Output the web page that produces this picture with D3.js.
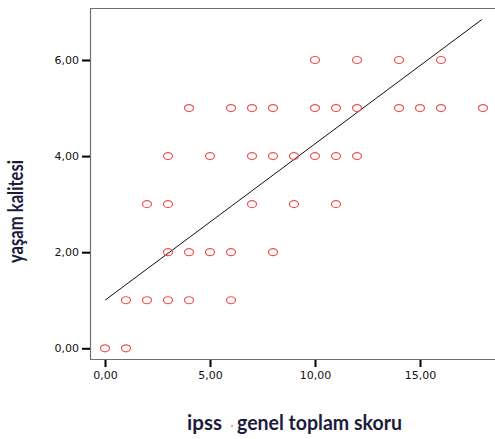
<!DOCTYPE html>
<html>
<head>
<meta charset="utf-8">
<script src="https://cdn.jsdelivr.net/npm/d3@7"></script>
<style>
  body { margin: 0; background: #fff; }
  svg { display: block; }
</style>
</head>
<body>
<svg id="canvas" width="495" height="439"></svg>
<script>
// ipss score (x) and quality of life (y) for each point
let ipssScores = [0, 1,
                  1, 2, 3, 4, 6,
                  3, 4, 5, 6, 8,
                  2, 3, 7, 9, 11,
                  3, 5, 7, 8, 9, 10, 11, 12,
                  4, 6, 7, 8, 10, 11, 12, 14, 15, 16, 18,
                  10, 12, 14, 16]
let qolScores = [0, 0,
                 1, 1, 1, 1, 1,
                 2, 2, 2, 2, 2,
                 3, 3, 3, 3, 3,
                 4, 4, 4, 4, 4, 4, 4, 4,
                 5, 5, 5, 5, 5, 5, 5, 5, 5, 5, 5,
                 6, 6, 6, 6]

// fit line ends
let fitX = [0, 17.94]
let fitY = [1.0, 6.84]

let xTicks = [0, 5, 10, 15]
let yTicks = [0, 2, 4, 6]

let fmt = (v) => v.toFixed(2).replace('.', ',')

let canvas = d3.select('#canvas')

let xScale = d3.scaleLinear().domain([0, 15]).range([105, 420])
let yScale = d3.scaleLinear().domain([0, 6]).range([348.3, 60])

// frame (right side runs off the picture)
canvas.append('path')
    .attr('d', 'M 510 8.5 H 90.5 V 359.5 H 510')
    .attr('fill', 'none')
    .attr('stroke', '#707070')
    .attr('stroke-width', 1.2)

let xAxis = d3.axisBottom(xScale).tickValues(xTicks).tickFormat(fmt).tickSize(7).tickPadding(4)
let yAxis = d3.axisLeft(yScale).tickValues(yTicks).tickFormat(fmt).tickSize(8).tickPadding(3)

let gx = canvas.append('g').attr('transform', 'translate(0, 360)').call(xAxis)
let gy = canvas.append('g').attr('transform', 'translate(90, 0)').call(yAxis)

for (let g of [gx, gy]) {
    g.select('.domain').remove()
    g.selectAll('.tick line').attr('stroke', '#000').attr('stroke-width', 2)
    g.selectAll('.tick text')
        .attr('fill', '#111')
        .style('font-family', 'DejaVu Sans')
        .style('font-size', '11px')
}

// fit line
canvas.append('line')
    .attr('x1', xScale(fitX[0]))
    .attr('y1', yScale(fitY[0]))
    .attr('x2', xScale(fitX[1]))
    .attr('y2', yScale(fitY[1]))
    .attr('stroke', '#111')
    .attr('stroke-width', 1)

// points
canvas.selectAll('ellipse')
    .data(ipssScores)
    .enter()
    .append('ellipse')
    .attr('cx', (d) => xScale(d))
    .attr('cy', (d, i) => yScale(qolScores[i]))
    .attr('rx', 4.5)
    .attr('ry', 3.5)
    .attr('fill', 'none')
    .attr('stroke', '#f05050')
    .attr('stroke-width', 1.2)

// axis titles
canvas.append('text')
    .attr('transform', 'translate(23, 211.5) rotate(-90)')
    .attr('text-anchor', 'middle')
    .attr('textLength', 103)
    .attr('lengthAdjust', 'spacingAndGlyphs')
    .attr('fill', '#1c1c3c')
    .style('font-family', 'Lato')
    .style('font-weight', 'bold')
    .style('font-size', '20px')
    .text('yaşam kalitesi')

canvas.append('text')
    .attr('x', 187)
    .attr('y', 430)
    .attr('textLength', 35)
    .attr('lengthAdjust', 'spacingAndGlyphs')
    .attr('fill', '#1c1c3c')
    .style('font-family', 'Lato')
    .style('font-weight', 'bold')
    .style('font-size', '20px')
    .text('ipss')

canvas.append('circle')
    .attr('cx', 232)
    .attr('cy', 426)
    .attr('r', 1.2)
    .attr('fill', '#e8b070')

canvas.append('text')
    .attr('x', 237)
    .attr('y', 430)
    .attr('textLength', 165)
    .attr('lengthAdjust', 'spacingAndGlyphs')
    .attr('fill', '#1c1c3c')
    .style('font-family', 'Lato')
    .style('font-weight', 'bold')
    .style('font-size', '20px')
    .text('genel toplam skoru')
</script>
</body>
</html>
